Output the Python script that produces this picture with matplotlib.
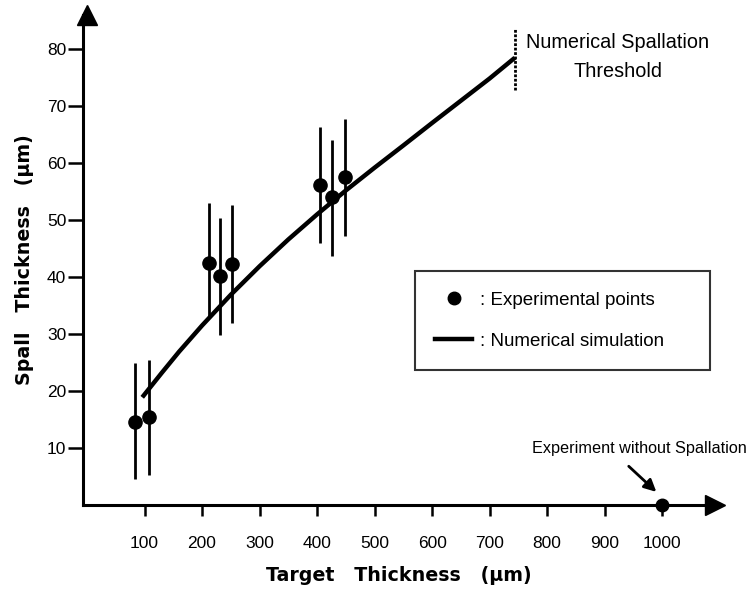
import matplotlib
matplotlib.use("Agg")
import matplotlib.pyplot as plt
from matplotlib.lines import Line2D

plt.rcParams["font.family"] = ["Liberation Sans", "DejaVu Sans"]

# experimental points (target thickness um, spall thickness um, error bar ends)
exp_x = [83, 108, 212, 231, 252, 405, 426, 449]
exp_y = [14.6, 15.4, 42.5, 40.2, 42.3, 56.1, 54.0, 57.5]
exp_lo = [4.6, 5.3, 33.0, 29.8, 32.0, 46.0, 43.7, 47.2]
exp_hi = [24.9, 25.4, 53.0, 50.4, 52.6, 66.3, 64.0, 67.7]

# numerical simulation curve
sim_x = [96, 130, 160, 200, 250, 300, 350, 400, 450, 500, 550, 600, 650, 700, 744]
sim_y = [18.9, 23.2, 26.9, 31.5, 36.9, 41.9, 46.6, 51.0, 55.2, 59.2, 63.1, 67.05, 70.95, 74.85, 78.5]

# experiment without spallation
nospall_x = [1000]
nospall_y = [0]

threshold_x = 744
threshold_y = (72.8, 83.6)

xticks = [100, 200, 300, 400, 500, 600, 700, 800, 900, 1000]
yticks = [10, 20, 30, 40, 50, 60, 70, 80]

fig = plt.figure(figsize=(7.52, 5.94), dpi=100)
ax = fig.add_axes([83 / 752, 1 - 505 / 594, (715 - 83) / 752, 490 / 594])
ax.set_xlim(-7, 1092)
ax.set_ylim(0, 86)

err_lo = [y - lo for y, lo in zip(exp_y, exp_lo)]
err_hi = [hi - y for y, hi in zip(exp_y, exp_hi)]
ax.errorbar(exp_x, exp_y, yerr=[err_lo, err_hi], fmt="o", color="black",
            markersize=9.5, elinewidth=2, capsize=0, zorder=3)
ax.plot(sim_x, sim_y, color="black", lw=3.2, solid_capstyle="butt", zorder=2)
ax.plot(nospall_x, nospall_y, "o", color="black", markersize=9, clip_on=False, zorder=4)

ax.vlines(threshold_x, *threshold_y, colors="black", lw=2, linestyles=(0, (1, 0.6)))
ax.text(923, 78.6, "Numerical Spallation\nThreshold", ha="center", va="center",
        fontsize=14.3, linespacing=1.65)

ax.text(960, 10, "Experiment without Spallation", ha="center", va="center",
        fontsize=11.7)
ax.annotate("", xy=(990, 2.3), xytext=(942, 6.8),
            arrowprops=dict(arrowstyle="-|>", color="black", lw=2,
                            mutation_scale=18, shrinkA=0, shrinkB=0))

# axes with arrow heads
for side in ("top", "right"):
    ax.spines[side].set_visible(False)
for side in ("left", "bottom"):
    ax.spines[side].set_linewidth(2.2)
ax.plot(1, 0, ">k", markersize=14, transform=ax.get_yaxis_transform(), clip_on=False)
ax.plot(0, 1, "^k", markersize=14, transform=ax.get_xaxis_transform(), clip_on=False)

ax.set_xticks(xticks)
ax.set_yticks(yticks)
ax.tick_params(axis="x", direction="out", length=8, width=1.8, pad=14, labelsize=12.5)
ax.tick_params(axis="y", direction="out", length=11, width=1.8, pad=1, labelsize=12.5)

label_font = dict(fontsize=13.7, fontweight="bold", family="DejaVu Sans")
ax.set_xlabel("Target   Thickness   (\u00b5m)", labelpad=11, **label_font)
ax.set_ylabel("Spall   Thickness   (\u00b5m)", labelpad=9, **label_font)

handles = [
    Line2D([], [], marker="o", color="black", linestyle="none", markersize=9),
    Line2D([], [], color="black", lw=3.2),
]
leg = ax.legend(handles, [": Experimental points", ": Numerical simulation"],
                loc="upper left", bbox_to_anchor=(570, 23.9, 513, 17.1),
                bbox_transform=ax.transData, mode="expand", borderaxespad=0,
                fontsize=13.5, frameon=True, fancybox=False, borderpad=1.07,
                labelspacing=1.29, handlelength=2.0, handletextpad=0.4)
leg.get_frame().set_edgecolor("black")
leg.get_frame().set_linewidth(1.5)

fig.savefig("out.png", dpi=100)
